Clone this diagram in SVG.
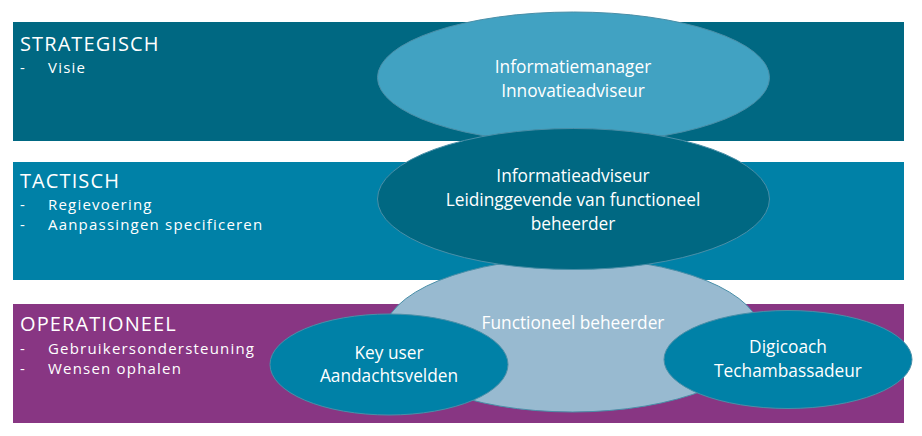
<svg xmlns="http://www.w3.org/2000/svg" width="922" height="436" viewBox="0 0 922 436">
<style>
text{font-family:"Open Sans","Liberation Sans",sans-serif;fill:#fff}
.h{font-size:20px;letter-spacing:1.1px}
.b{font-size:15px;letter-spacing:1.2px}
.e{font-size:17.3px;text-anchor:middle}
.ol{stroke:#4a8fa8;stroke-width:1}
</style>
<rect width="922" height="436" fill="#fff"/>
<g id="strategisch">
<rect x="13" y="22" width="891" height="119" fill="#006882"/>
<text class="h" x="20" y="51">STRATEGISCH</text>
<text class="b" x="20" y="73">-</text><text class="b" x="48" y="73">Visie</text>
</g>
<g id="tactisch">
<rect x="13" y="162" width="891" height="118" fill="#0081a7"/>
<text class="h" x="20" y="188">TACTISCH</text>
<text class="b" x="20" y="210">-</text><text class="b" x="48" y="210">Regievoering</text>
<text class="b" x="20" y="230">-</text><text class="b" x="48" y="230">Aanpassingen specificeren</text>
</g>
<g id="operationeel">
<rect x="13" y="304" width="891" height="119" fill="#883683"/>
<text class="h" x="20" y="331">OPERATIONEEL</text>
<text class="b" x="20" y="354">-</text><text class="b" x="48" y="354">Gebruikersondersteuning</text>
<text class="b" x="20" y="374">-</text><text class="b" x="48" y="374">Wensen ophalen</text>
</g>
<g id="connectors"></g>
<g id="functioneel">
<ellipse class="ol" cx="572.5" cy="335" rx="189" ry="77" fill="#98bad0"/>
<text class="e" x="573" y="329">Functioneel beheerder</text>
</g>
<g id="informatiemanager">
<ellipse class="ol" cx="573.5" cy="77.5" rx="196" ry="65.5" fill="#41a2c2"/>
<text class="e" x="573" y="73">Informatiemanager</text>
<text class="e" x="573" y="97">Innovatieadviseur</text>
</g>
<g id="informatieadviseur">
<ellipse class="ol" cx="573.5" cy="199" rx="196" ry="70.5" fill="#006882"/>
<text class="e" x="573" y="182">Informatieadviseur</text>
<text class="e" x="573" y="206">Leidinggevende van functioneel</text>
<text class="e" x="573" y="230">beheerder</text>
</g>
<g id="keyuser">
<ellipse class="ol" cx="389" cy="364.5" rx="119" ry="50.5" fill="#0081a7"/>
<text class="e" x="389" y="359">Key user</text>
<text class="e" x="389" y="382">Aandachtsvelden</text>
</g>
<g id="digicoach">
<ellipse class="ol" cx="788" cy="359.5" rx="124" ry="49" fill="#0081a7"/>
<text class="e" x="788" y="353">Digicoach</text>
<text class="e" x="788" y="377">Techambassadeur</text>
</g>
</svg>
